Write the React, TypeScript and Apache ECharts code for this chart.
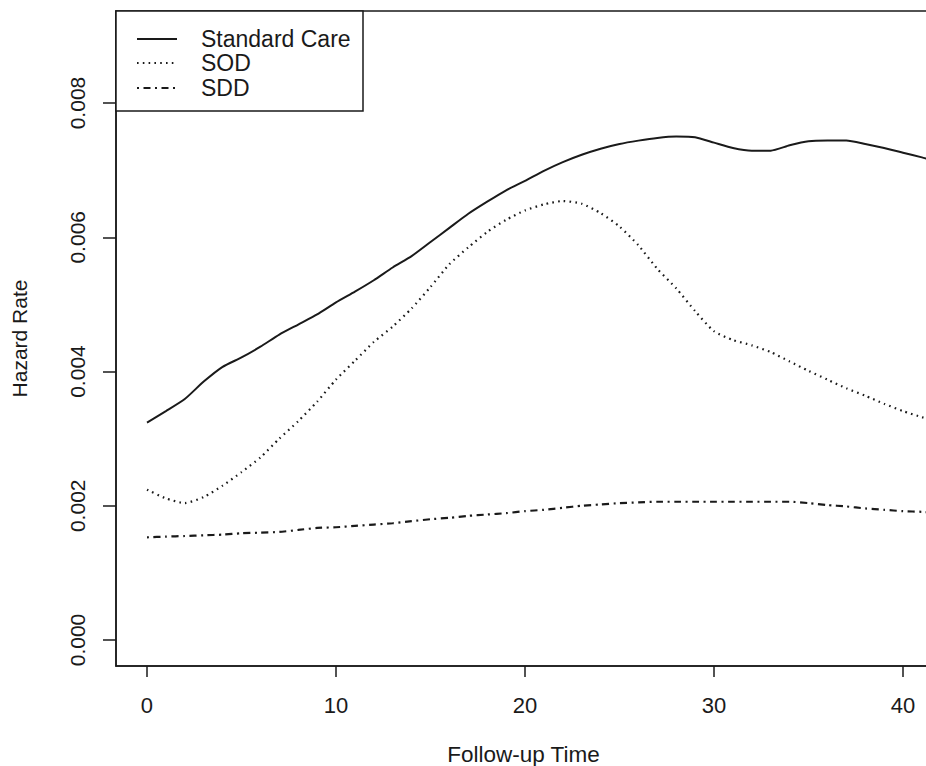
import React, { useEffect, useRef } from "react";
import * as echarts from "echarts";

const times = [0,1,2,3,4,5,6,7,8,9,10,11,12,13,14,15,16,17,18,19,20,21,22,23,24,25,26,27,28,29,30,31,32,33,34,35,36,37,38,39,40,41,41.5];
const standardCare = [0.00324,0.00341,0.00359,0.00385,0.00407,0.00421,0.00437,0.00455,0.0047,0.00485,0.00503,0.00519,0.00536,0.00555,0.00572,0.00593,0.00614,0.00635,0.00653,0.0067,0.00684,0.00699,0.00712,0.00723,0.00732,0.00739,0.00744,0.00748,0.0075,0.00749,0.00741,0.00733,0.00729,0.00729,0.00737,0.00743,0.00744,0.00744,0.00739,0.00733,0.00726,0.00719,0.00715];
const sod = [0.00224,0.00211,0.00204,0.00213,0.0023,0.0025,0.00272,0.003,0.00326,0.00355,0.00388,0.00416,0.00444,0.00467,0.00494,0.00526,0.0056,0.00585,0.00608,0.00626,0.0064,0.00649,0.00654,0.0065,0.00636,0.00616,0.00588,0.00553,0.00524,0.0049,0.0046,0.00447,0.00439,0.00429,0.00415,0.00401,0.00388,0.00375,0.00364,0.00352,0.00341,0.00332,0.00328];
const sdd = [0.00153,0.00154,0.00155,0.00156,0.00157,0.00159,0.0016,0.00161,0.00164,0.00167,0.00168,0.0017,0.00172,0.00174,0.00177,0.0018,0.00182,0.00185,0.00187,0.00189,0.00192,0.00194,0.00197,0.002,0.00202,0.00204,0.00205,0.00206,0.00206,0.00206,0.00206,0.00206,0.00206,0.00206,0.00206,0.00204,0.00201,0.00199,0.00196,0.00194,0.00192,0.00191,0.0019];
const seriesNames = ["Standard Care", "SOD", "SDD"];
const xTicks = [0, 10, 20, 30, 40];
const yTicks = [0, 0.002, 0.004, 0.006, 0.008];

const FONT = "'Liberation Sans', Arial, Helvetica, sans-serif";
const INK = "#1a1a1a";
const dashes: any[] = ["solid", [1.6, 4.2], [2, 4.5, 7, 4.5]];

export default function App() {
  const ref = useRef<HTMLDivElement>(null);
  useEffect(() => {
    if (!ref.current) return;
    const chart = echarts.init(ref.current, null, { renderer: "svg" });
    const allData = [standardCare, sod, sdd];
    const series = allData.map((vals, i) => ({
      name: seriesNames[i],
      type: "line",
      data: times.map((t, j) => [t, vals[j]]),
      showSymbol: false,
      symbol: "none",
      smooth: 0.2,
      lineStyle: { color: INK, width: i === 0 ? 2 : 2.2, type: dashes[i] },
      silent: true,
    }));
    const legendRows = [39, 63, 88];
    const graphic: any[] = [
      {
        type: "rect",
        z: 10,
        shape: { x: 116, y: 11, width: 247, height: 100 },
        style: { fill: "#fff", stroke: INK, lineWidth: 1.5 },
      },
    ];
    seriesNames.forEach((n, i) => {
      graphic.push({
        type: "line",
        z: 11,
        shape: { x1: 137, y1: legendRows[i], x2: 177, y2: legendRows[i] },
        style: { stroke: INK, lineWidth: i === 0 ? 2 : 2.2, lineDash: i === 0 ? null : dashes[i] },
      });
      graphic.push({
        type: "text",
        z: 11,
        x: 201,
        y: legendRows[i],
        style: { text: n, fontSize: 23, fontFamily: FONT, fill: INK, verticalAlign: "middle", textAlign: "left" },
      });
    });
    chart.setOption({
      animation: false,
      backgroundColor: "#fff",
      grid: {
        left: 116,
        top: 11,
        right: 960 - 931,
        bottom: 766 - 666,
        show: true,
        borderColor: INK,
        borderWidth: 1.5,
        containLabel: false,
        outerBoundsMode: "none",
      },
      xAxis: {
        type: "value",
        min: -1.64,
        max: 41.48,
        name: "Follow-up Time",
        nameLocation: "middle",
        nameGap: 77,
        nameTextStyle: { fontSize: 22.5, lineHeight: 22, fontFamily: FONT, color: INK },
        axisLine: { show: true, onZero: false, lineStyle: { color: INK, width: 1.5 } },
        axisTick: { show: true, inside: false, length: 11, customValues: xTicks, lineStyle: { color: INK, width: 1.5 } },
        axisLabel: { customValues: xTicks, fontSize: 22, fontFamily: FONT, color: INK, margin: 28 },
        splitLine: { show: false },
      },
      yAxis: {
        type: "value",
        min: -0.000387,
        max: 0.009371,
        name: "Hazard Rate",
        nameLocation: "middle",
        nameGap: 86,
        nameRotate: 90,
        nameTextStyle: { fontSize: 21, fontFamily: FONT, color: INK },
        axisLine: { show: true, onZero: false, lineStyle: { color: INK, width: 1.5 } },
        axisTick: { show: true, inside: false, length: 13, customValues: yTicks, lineStyle: { color: INK, width: 1.5 } },
        axisLabel: {
          customValues: yTicks,
          rotate: 90,
          fontSize: 21,
          fontFamily: FONT,
          color: INK,
          margin: 28,
          formatter: (v: number) => v.toFixed(3),
        },
        splitLine: { show: false },
      },
      series,
      graphic,
    });
    return () => chart.dispose();
  }, []);
  return (
    <div style={{ position: "fixed", left: 0, top: 0, width: 926, height: 766, overflow: "hidden", background: "#fff" }}>
      <div ref={ref} style={{ width: 960, height: 766 }} />
    </div>
  );
}
